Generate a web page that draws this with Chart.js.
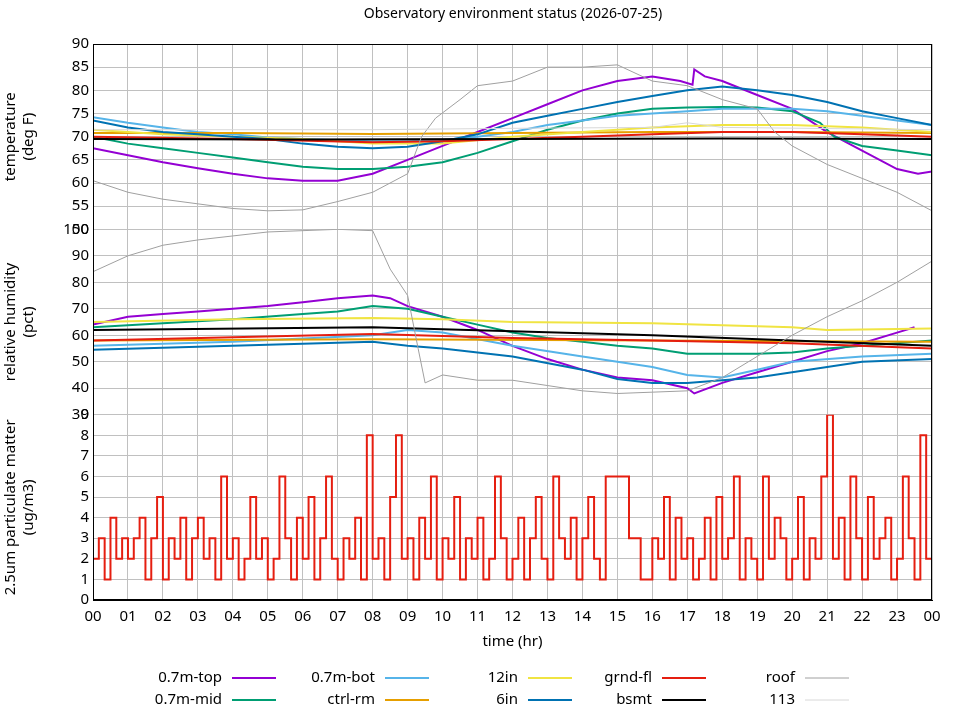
<!DOCTYPE html>
<html>
<head>
<meta charset="utf-8">
<script src="https://cdn.jsdelivr.net/npm/chart.js@4"></script>
<style>
    body { margin: 0; background: #fff; }
    #wrap { width: 960px; height: 720px; }
</style>
</head>
<body>
<div id="wrap"><canvas id="chart" width="960" height="720"></canvas></div>
<script>
// temperature (deg F), [hour, value]
var tempTop = [[0,67.5],[1,66],[2,64.5],[3,63.2],[4,62],[5,61],[6,60.5],[7,60.5],[8,62],[9,65],[10,68],[11,71],[12,74],[13,77],[14,80],[15,82],[16,83],[16.8,82],[17.15,81.2],[17.2,84.5],[17.5,83],[18,82],[19,79],[20,76],[21,71],[22,67],[23,63],[23.6,62],[24,62.5]]
var tempMid = [[0,70],[1,68.5],[2,67.5],[3,66.5],[4,65.5],[5,64.5],[6,63.5],[7,63],[8,63],[9,63.5],[10,64.5],[11,66.5],[12,69],[13,71.5],[14,73.5],[15,75],[16,76],[17,76.3],[18,76.4],[19,76.3],[20,75.5],[20.8,73],[21.2,70],[22,68],[23,67],[24,66]]
var tempBot = [[0,74.2],[1,73],[2,72],[3,71],[4,70.5],[5,69.8],[6,69.5],[7,69.2],[8,69],[9,69],[10,69.3],[11,70],[12,71],[13,72.5],[14,73.5],[15,74.5],[16,75],[17,75.5],[18,76],[19,76],[20,76],[21,75.5],[22,74.5],[23,73.5],[24,72.5]]
var tempCtrl = [[0,70.8],[4,70.8],[8,70.6],[12,70.8],[16,71],[20,71],[24,70.8]]
var temp12 = [[0,71.5],[2,70.5],[4,70],[6,69.5],[8,68.5],[10,68.5],[12,70],[14,71],[16,72],[18,72.5],[20,72.5],[22,72],[24,71]]
var temp6 = [[0,73.5],[1,72],[2,71],[3,70.5],[4,70],[5,69.5],[6,68.5],[7,67.8],[8,67.5],[9,67.8],[10,69],[11,70.5],[12,73],[13,74.5],[14,76],[15,77.5],[16,78.8],[17,80],[18,80.8],[19,80],[20,79],[21,77.5],[22,75.5],[23,74],[24,72.5]]
var tempGrnd = [[0,70],[4,69.5],[8,68.8],[10,69],[12,69.5],[14,70],[16,70.5],[18,71],[20,71],[22,70.5],[24,70]]
var tempBsmt = [[0,69.5],[6,69.4],[12,69.5],[18,69.6],[24,69.5]]
var tempRoof = [[0,60.5],[1,58],[2,56.5],[3,55.5],[4,54.5],[5,54],[6,54.2],[7,56],[8,58],[9,62],[9.4,70],[9.8,74],[10.5,78],[11,81],[12,82],[13,85],[14,85],[15,85.5],[16,82],[17,81],[18,78],[19,76],[19.5,71],[20,68],[21,64],[22,61],[23,58],[24,54]]
var temp113 = [[0,71.5],[8,71.5],[12,71.8],[16,72],[17,73],[18,72],[24,71.5]]

// relative humidity (pct)
var rhTop = [[0,64],[1,67],[2,68],[3,69],[4,70],[5,71],[6,72.5],[7,74],[8,75],[8.5,74],[9,71],[10,67],[11,62],[12,56],[13,51],[14,47],[15,44],[16,43],[17,40],[17.2,38],[18,42],[19,46],[20,50],[21,54],[22,57],[23,61],[23.5,63]]
var rhMid = [[0,63],[2,64.5],[4,66],[6,68],[7,69],[8,71],[9,70],[10,67],[11,64],[12,61],[13,59],[14,57.5],[15,56],[16,55],[17,53],[18,53],[19,53],[20,53.5],[21,55],[22,56],[23,57],[24,58]]
var rhBot = [[0,56],[4,57.5],[8,60],[9,62],[10,61],[12,56],[14,52],[16,48],[17,45],[18,44],[19,47],[20,50],[22,52],[24,53]]
var rhCtrl = [[0,58],[8,58.5],[16,58],[24,57.5]]
var rh12 = [[0,65],[4,66],[8,66.5],[10,66],[12,65],[16,64.5],[20,63],[21,62],[24,62.5]]
var rh6 = [[0,54.5],[4,56],[8,57.5],[9,56],[10,55],[12,52],[14,47],[15,43.5],[16,42],[17,42],[18,43],[19,44],[20,46],[21,48],[22,50],[24,51]]
var rhGrnd = [[0,58],[8,60.5],[12,59],[16,58],[20,57],[24,55]]
var rhBsmt = [[0,62],[8,63],[12,61.5],[16,60],[20,58],[24,56]]
var rhRoof = [[0,84],[1,90],[2,94],[3,96],[4,97.5],[5,99],[7,100],[8,99.5],[8.5,85],[9,75],[9.3,55],[9.5,42],[10,45],[11,43],[12,43],[13,41],[14,39],[15,38],[16,38.5],[17,39],[18,44],[19,52],[20,60],[21,67],[22,73],[23,80],[24,88]]

// 2.5um particulate matter (ug/m3), every 10 min
var pm25 = [
    2,3,1,4,2,3, 2,3,4,1,3,5, 1,3,2,4,1,3, 4,2,3,1,6,2,
    3,1,2,5,2,3, 1,2,6,3,1,4, 2,5,1,3,6,2, 1,3,2,4,1,8,
    2,3,1,5,8,2, 3,1,4,2,6,1, 3,2,5,1,3,2, 4,1,2,6,3,1,
    2,4,1,3,5,2, 1,6,3,2,4,1, 3,5,2,1,6,6, 6,6,3,3,1,1,
    3,2,5,1,4,2, 3,1,2,4,1,5, 2,3,6,1,3,2, 1,6,2,4,3,1,
    2,5,1,3,2,6, 9,2,4,1,6,3, 1,5,2,3,4,1, 2,6,3,1,8,2, 1
]

var hourTicks = ['00','01','02','03','04','05','06','07','08','09','10','11','12','13','14','15','16','17','18','19','20','21','22','23','00']

var names = ['0.7m-top','0.7m-mid','0.7m-bot','ctrl-rm','12in','6in','grnd-fl','bsmt','roof','113']
var colors = ['#9400d3','#009e73','#56b4e9','#e69f00','#f0e442','#0072b2','#e51e10','#000000','#a0a0a0','#d8d8d8']
var widths = [2,2,2,2,2,2,2,2,1,1]

var tempSeries = [tempTop, tempMid, tempBot, tempCtrl, temp12, temp6, tempGrnd, tempBsmt, tempRoof, temp113]
var rhSeries = [rhTop, rhMid, rhBot, rhCtrl, rh12, rh6, rhGrnd, rhBsmt, rhRoof]

var FONT = '"Noto Sans", "DejaVu Sans", sans-serif'

function pts(arr) {
    return arr.map(function(p) { return { x: p[0], y: p[1] } })
}

var datasets = []
tempSeries.forEach(function(s, i) {
    datasets.push({ label: names[i], data: pts(s), yAxisID: 'yT', borderColor: colors[i], borderWidth: widths[i], pointRadius: 0, order: 10 - i })
})
rhSeries.forEach(function(s, i) {
    datasets.push({ label: names[i], data: pts(s), yAxisID: 'yH', borderColor: colors[i], borderWidth: widths[i], pointRadius: 0, order: 10 - i })
})
datasets.push({
    label: 'pm25',
    data: pm25.map(function(v, i) { return { x: i / 6, y: v } }),
    yAxisID: 'yP', borderColor: '#e51e10', borderWidth: 2, pointRadius: 0, stepped: true
})

function yAxis(min, max, step, title, weight) {
    return {
        type: 'linear', position: 'left', stack: 'panels', stackWeight: weight,
        min: min, max: max, offset: false,
        border: { color: '#000', width: 1 },
        grid: { color: '#c0c0c0', tickLength: 0 },
        ticks: { stepSize: step, autoSkip: false, color: '#000', font: { family: FONT, size: 15 }, padding: 4 },
        title: { display: true, text: title, color: '#000', font: { family: FONT, size: 15 }, padding: 2 },
        afterFit: function(s) { s.width = 93 }
    }
}

var decor = {
    id: 'decor',
    afterDraw: function(chart) {
        var ctx = chart.ctx
        var area = chart.chartArea
        ctx.save()
        ctx.fillStyle = '#000'
        ctx.font = '14px ' + FONT
        ctx.textAlign = 'center'
        ctx.textBaseline = 'middle'
        ctx.fillText('Observatory environment status (2026-07-25)', 513, 14)
        ctx.strokeStyle = '#000'
        ctx.lineWidth = 1
        ctx.strokeRect(area.left + 0.5, area.top + 0.5, area.width - 1, area.height - 1)
        var order = [[0,2,4,6,8],[1,3,5,7,9]]
        var colEnd = [222, 375, 518, 652, 795]
        ctx.font = '15px ' + FONT
        ctx.textAlign = 'right'
        order.forEach(function(row, r) {
            var y = 678 + r * 22
            row.forEach(function(k, c) {
                ctx.fillStyle = '#000'
                ctx.fillText(names[k], colEnd[c], y)
                ctx.strokeStyle = colors[k]
                ctx.lineWidth = widths[k]
                ctx.beginPath()
                ctx.moveTo(colEnd[c] + 10, y)
                ctx.lineTo(colEnd[c] + 54, y)
                ctx.stroke()
            })
        })
        ctx.restore()
    }
}

new Chart(document.getElementById('chart'), {
    type: 'line',
    data: { datasets: datasets },
    plugins: [decor],
    options: {
        responsive: false,
        animation: false,
        layout: { padding: { top: 44, right: 28, bottom: 65, left: 0 } },
        plugins: { legend: { display: false }, tooltip: { enabled: false } },
        scales: {
            x: {
                type: 'linear', min: 0, max: 24,
                border: { color: '#000' },
                grid: { color: '#c0c0c0', tickLength: 0 },
                ticks: {
                    stepSize: 1, color: '#000', autoSkip: false, maxRotation: 0,
                    font: { family: FONT, size: 15 }, padding: 8,
                    callback: function(v) { return hourTicks[v] }
                },
                title: { display: true, text: 'time (hr)', color: '#000', font: { family: FONT, size: 15 }, padding: { top: 12 } },
                afterFit: function(s) { s.height = 55 }
            },
            yP: yAxis(0, 9, 1, ['2.5um particulate matter', '(ug/m3)'], 1),
            yH: yAxis(30, 100, 10, ['relative humidity', '(pct)'], 1),
            yT: yAxis(50, 90, 5, ['temperature', '(deg F)'], 1)
        }
    }
})
</script>
</body>
</html>
